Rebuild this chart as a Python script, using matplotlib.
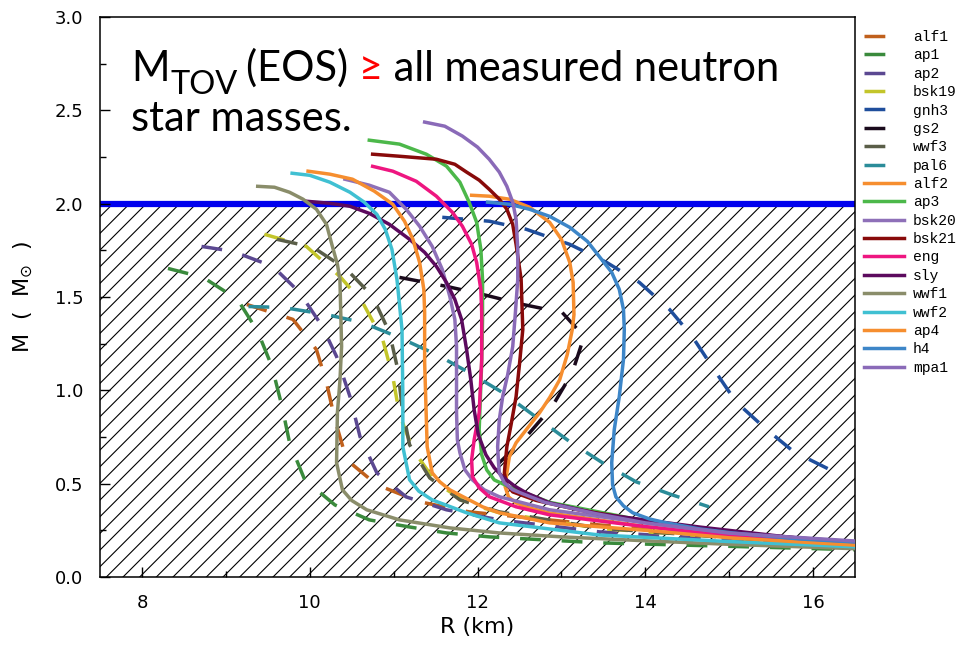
import matplotlib
matplotlib.use("Agg")
import matplotlib.pyplot as plt

plt.rcParams["hatch.linewidth"] = 0.8
plt.rcParams["font.family"] = "DejaVu Sans"

# M-R curves: (R km, M Msun)
names = ["alf1", "ap1", "ap2", "bsk19", "gnh3", "gs2", "wwf3", "pal6",
         "alf2", "ap3", "bsk20", "bsk21", "eng", "sly", "wwf1", "wwf2",
         "ap4", "h4", "mpa1"]
colors = ["#c0601c", "#3a8a3c", "#5b4891", "#c3c52a", "#1f4e9c", "#1a0a1c",
          "#5a5e48", "#2b8c99", "#f68e2f", "#4cb84a", "#8e70b8", "#880a0a",
          "#ee1680", "#5c0a5e", "#8a8d6a", "#40c0d2", "#f68e2f", "#3d86c8",
          "#8a6ab8"]
dashed = ["alf1", "ap1", "ap2", "bsk19", "gnh3", "gs2", "wwf3", "pal6"]

R = {}
M = {}
R["alf1"] = [9.25, 9.80, 10.08, 10.20, 10.30, 10.44, 10.80, 11.31, 11.90, 13.45, 16.6]
M["alf1"] = [1.46, 1.38, 1.218, 1.041, 0.843, 0.628, 0.494, 0.403, 0.349, 0.279, 0.17]
R["ap1"] = [8.31, 8.73, 9.14, 9.38, 9.55, 9.67, 9.76, 9.94, 10.30, 10.71, 11.19, 11.63, 12.14, 13.45, 16.6]
M["ap1"] = [1.653, 1.605, 1.487, 1.315, 1.127, 0.913, 0.719, 0.521, 0.386, 0.306, 0.268, 0.236, 0.215, 0.183, 0.145]
R["ap2"] = [8.71, 9.08, 9.56, 9.88, 10.15, 10.32, 10.48, 10.60, 10.80, 11.15, 11.63, 12.26, 13.45, 16.6]
M["ap2"] = [1.771, 1.745, 1.664, 1.524, 1.342, 1.181, 0.966, 0.751, 0.558, 0.429, 0.36, 0.306, 0.242, 0.156]
R["bsk19"] = [9.46, 9.96, 10.36, 10.63, 10.87, 10.99, 11.07, 11.23, 11.51, 11.87, 12.26, 13.45, 16.6]
M["bsk19"] = [1.836, 1.771, 1.61, 1.471, 1.272, 1.074, 0.87, 0.682, 0.505, 0.397, 0.344, 0.26, 0.16]
R["gnh3"] = [11.58, 12.14, 12.58, 13.10, 13.54, 13.93, 14.29, 14.56, 14.82, 15.08, 15.42, 15.77, 16.25]
M["gnh3"] = [1.927, 1.906, 1.863, 1.782, 1.685, 1.578, 1.433, 1.288, 1.111, 0.939, 0.80, 0.671, 0.564]
R["gs2"] = [11.07, 11.63, 12.06, 12.54, 13.01, 13.27, 13.13, 12.89, 12.58, 12.26, 12.10]
M["gs2"] = [1.605, 1.557, 1.514, 1.46, 1.417, 1.288, 1.095, 0.913, 0.751, 0.612, 0.55]
R["wwf3"] = [9.61, 10.04, 10.44, 10.75, 10.95, 11.05, 11.10, 11.19, 11.43, 11.79, 12.26, 13.45, 16.6]
M["wwf3"] = [1.809, 1.766, 1.648, 1.503, 1.31, 1.111, 0.913, 0.709, 0.531, 0.413, 0.349, 0.262, 0.158]
R["pal6"] = [9.27, 9.68, 10.20, 10.63, 11.04, 11.51, 11.90, 12.30, 12.74, 13.10, 13.49, 13.89, 14.32, 14.76]
M["pal6"] = [1.449, 1.444, 1.406, 1.363, 1.288, 1.192, 1.095, 0.988, 0.843, 0.725, 0.612, 0.51, 0.44, 0.376]

R["alf2"] = [11.93, 12.14, 12.38, 12.62, 12.86, 13.0, 13.10, 13.14, 13.15, 13.13, 13.07, 12.98, 12.86,
             12.74, 12.60, 12.46, 12.38, 12.35, 12.33, 12.37, 12.46, 12.62, 12.86, 14.0, 15.0, 16.6]
M["alf2"] = [2.045, 2.040, 2.024, 1.981, 1.90, 1.809, 1.685, 1.578, 1.406, 1.326, 1.192, 1.057, 0.961,
             0.88, 0.80, 0.719, 0.644, 0.558, 0.483, 0.429, 0.397, 0.37, 0.343, 0.27, 0.22, 0.175]
R["ap3"] = [10.71, 11.07, 11.39, 11.63, 11.79, 11.90, 11.99, 12.04, 12.06, 12.06, 12.05, 12.02, 12.05,
            12.11, 12.20, 12.38, 12.86, 14.0, 15.0, 16.6]
M["ap3"] = [2.34, 2.319, 2.265, 2.201, 2.115, 2.008, 1.90, 1.755, 1.594, 1.38, 1.149, 0.789, 0.655,
            0.574, 0.52, 0.483, 0.40, 0.30, 0.235, 0.175]
R["bsk20"] = [10.42, 10.71, 10.95, 11.15, 11.31, 11.46, 11.58, 11.67, 11.73, 11.75, 11.75, 11.76, 11.79,
              11.85, 11.94, 12.08, 12.26, 12.86, 14.0, 15.0, 16.6]
M["bsk20"] = [2.131, 2.099, 2.061, 1.97, 1.879, 1.771, 1.648, 1.503, 1.38, 1.235, 0.88, 0.735, 0.666,
              0.574, 0.52, 0.467, 0.43, 0.36, 0.29, 0.235, 0.185]
R["bsk21"] = [10.75, 11.07, 11.51, 11.73, 11.87, 12.02, 12.14, 12.26, 12.35, 12.42, 12.46, 12.52, 12.54,
              12.50, 12.46, 12.40, 12.35, 12.32, 12.35, 12.42, 12.70, 13.2, 14.0, 15.0, 16.6]
M["bsk21"] = [2.265, 2.254, 2.238, 2.211, 2.169, 2.126, 2.077, 2.024, 1.97, 1.889, 1.782, 1.594, 1.326,
              1.138, 0.966, 0.816, 0.698, 0.558, 0.494, 0.456, 0.41, 0.36, 0.30, 0.24, 0.18]
R["eng"] = [10.75, 10.99, 11.27, 11.51, 11.70, 11.82, 11.93, 11.99, 12.04, 12.05, 12.05, 12.02, 11.96,
            11.93, 11.94, 12.02, 12.14, 12.46, 12.86, 14.0, 15.0, 16.6]
M["eng"] = [2.20, 2.174, 2.12, 2.04, 1.954, 1.879, 1.782, 1.685, 1.54, 1.417, 1.165, 0.88, 0.735,
            0.628, 0.537, 0.478, 0.43, 0.376, 0.333, 0.27, 0.22, 0.172]
R["sly"] = [9.96, 10.24, 10.48, 10.71, 10.95, 11.19, 11.37, 11.51, 11.63, 11.73, 11.81, 11.87, 11.92,
            11.96, 12.01, 12.10, 12.20, 12.30, 12.44, 12.58, 12.86, 13.45, 14.64, 15.80]
M["sly"] = [2.013, 2.002, 1.986, 1.948, 1.889, 1.809, 1.739, 1.664, 1.578, 1.487, 1.38, 1.218, 1.057,
            0.896, 0.762, 0.655, 0.585, 0.537, 0.488, 0.451, 0.397, 0.338, 0.268, 0.209]
R["wwf1"] = [9.38, 9.58, 9.76, 9.92, 10.08, 10.20, 10.27, 10.33, 10.36, 10.38, 10.36, 10.33, 10.32,
             10.39, 10.50, 10.68, 11.07, 11.67, 12.26, 13.0, 14.05, 15.0, 16.6]
M["wwf1"] = [2.093, 2.088, 2.061, 2.024, 1.97, 1.889, 1.771, 1.675, 1.594, 1.235, 1.05, 0.88, 0.612,
             0.467, 0.41, 0.36, 0.306, 0.263, 0.236, 0.215, 0.193, 0.175, 0.15]
R["wwf2"] = [9.79, 10.0, 10.24, 10.48, 10.65, 10.80, 10.90, 10.98, 11.04, 11.07, 11.10, 11.11, 11.11,
             11.19, 11.30, 11.46, 11.87, 12.26, 13.45, 15.0, 16.6]
M["wwf2"] = [2.163, 2.152, 2.115, 2.061, 2.008, 1.943, 1.863, 1.755, 1.594, 1.46, 1.326, 0.966, 0.698,
             0.521, 0.46, 0.413, 0.344, 0.29, 0.225, 0.19, 0.16]
R["ap4"] = [9.98, 10.24, 10.51, 10.77, 10.99, 11.13, 11.23, 11.31, 11.36, 11.37, 11.37, 11.40, 11.46,
            11.55, 11.67, 12.06, 12.26, 12.86, 14.0, 15.0, 16.6]
M["ap4"] = [2.174, 2.158, 2.131, 2.067, 1.997, 1.906, 1.809, 1.685, 1.541, 1.417, 1.149, 0.698, 0.558,
            0.51, 0.467, 0.376, 0.344, 0.29, 0.25, 0.21, 0.168]
R["h4"] = [12.12, 12.38, 12.62, 12.86, 13.10, 13.31, 13.45, 13.60, 13.69, 13.74, 13.75, 13.74, 13.69,
           13.63, 13.60, 13.61, 13.65, 13.74, 13.85, 14.05, 14.25, 14.64, 15.04, 15.83, 16.6]
M["h4"] = [2.008, 1.997, 1.97, 1.932, 1.873, 1.798, 1.718, 1.632, 1.541, 1.433, 1.326, 1.165, 0.966,
           0.789, 0.612, 0.494, 0.429, 0.381, 0.344, 0.311, 0.29, 0.258, 0.236, 0.204, 0.185]
R["mpa1"] = [11.37, 11.61, 11.82, 12.0, 12.14, 12.26, 12.35, 12.42, 12.46, 12.48, 12.48, 12.45, 12.42,
             12.36, 12.30, 12.26, 12.24, 12.25, 12.26, 12.32, 12.42, 12.8, 13.4, 14.0, 15.0, 16.6]
M["mpa1"] = [2.437, 2.415, 2.362, 2.303, 2.238, 2.169, 2.093, 2.008, 1.916, 1.755, 1.594, 1.406, 1.235,
             1.084, 0.966, 0.843, 0.698, 0.617, 0.558, 0.505, 0.467, 0.40, 0.34, 0.29, 0.235, 0.19]

W, H = 959, 645
fig = plt.figure(figsize=(W / 100, H / 100), dpi=100)
ax = fig.add_axes([100 / W, 68 / H, 755 / W, 560 / H])

ax.axhspan(0, 2.0, facecolor="white", edgecolor="black", hatch="//", lw=0, zorder=0)
ax.axhline(2.0, color="#0000ee", lw=4.5, zorder=1)

for name, c in zip(names, colors):
    if name in dashed:
        ax.plot(R[name], M[name], color=c, lw=2.5, ls=(0, (6, 6)), label=name,
                dash_capstyle="butt", zorder=2)
    else:
        ax.plot(R[name], M[name], color=c, lw=2.5, label=name, zorder=3)

ax.set_xlim(7.5, 16.5)
ax.set_ylim(0, 3.0)
ax.set_xticks([8, 10, 12, 14, 16])
ax.set_xticks([9, 11, 13, 15], minor=True)
ax.set_yticks([0, 0.5, 1.0, 1.5, 2.0, 2.5, 3.0])
ax.set_yticks([0.25, 0.75, 1.25, 1.75, 2.25, 2.75], minor=True)
ax.yaxis.set_major_formatter(matplotlib.ticker.FormatStrFormatter("%.1f"))
ax.tick_params(which="both", direction="in", width=1, labelsize=13, pad=12)
ax.tick_params(which="major", length=7)
ax.tick_params(which="minor", length=4)
for s in ax.spines.values():
    s.set_linewidth(1.1)

ax.set_xlabel("R (km)", fontsize=16, labelpad=4)
ax.set_ylabel(r"M  (  M$_{\odot}$  )", fontsize=16, labelpad=14)

leg = fig.legend(loc="upper left", bbox_to_anchor=(864 / W, 1 - 30 / H),
                 frameon=False, borderpad=0, borderaxespad=0,
                 handlelength=2.75, handletextpad=0.6, labelspacing=0.3,
                 prop={"family": "Liberation Mono", "size": 10.5})

# headline text
renderer = fig.canvas.get_renderer()
fs = 30
fam = ["Lato", "DejaVu Sans"]


def put(x, y, s, size=fs, color="black"):
    t = fig.text(x / W, 1 - y / H, s, fontsize=size, color=color,
                 family=fam, va="baseline", ha="left")
    return t.get_window_extent(renderer).x1


x = put(131, 81, "M")
x = put(x + 1, 94, "TOV", size=fs * 0.78)
x = put(x + 8, 81, "(EOS) ")
x = put(x, 81, "\u2265", color="red")
put(x, 81, " all measured neutron")
put(131, 131, "star masses.")

fig.savefig("out.png", dpi=100)
